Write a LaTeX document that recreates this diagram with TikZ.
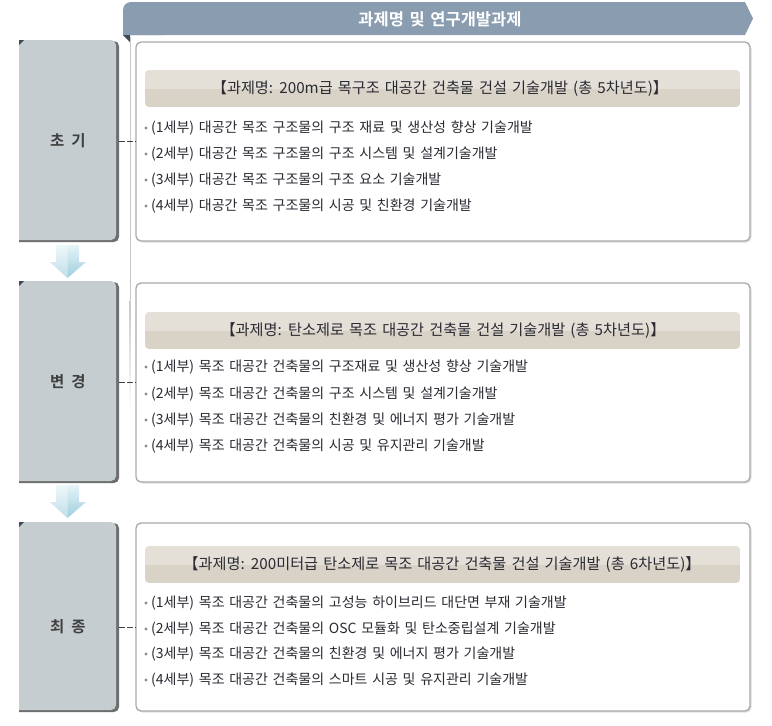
\documentclass[tikz,border=0pt]{standalone}
\usepackage{fontspec}
\setmainfont{Noto Sans CJK KR}[BoldFont={Noto Sans CJK KR Bold}, WordSpace=1.5]
\definecolor{bannerc}{HTML}{8A9DB0}
\definecolor{foldc}{HTML}{3E4A55}
\definecolor{labelc}{HTML}{C5CDD0}
\definecolor{shadowc}{HTML}{6E6E6E}
\definecolor{framec}{HTML}{A9A9A9}
\definecolor{titletop}{HTML}{E4E0D8}
\definecolor{titlebot}{HTML}{D9D2C6}
\definecolor{txtc}{HTML}{2A2A33}
\definecolor{bulc}{HTML}{8A8A8A}
\definecolor{arrtop}{HTML}{E6F3F7}
\definecolor{arrbot}{HTML}{9FCFDD}
\tikzset{
  itemtxt/.style={anchor=west, inner sep=0pt, text=txtc, font=\fontsize{14}{16}\selectfont},
  titletxt/.style={inner sep=0pt, text=txtc, font=\fontsize{15.2}{17}\selectfont},
  labeltxt/.style={inner sep=0pt, text=black!75, font=\fontsize{15.5}{18}\selectfont\bfseries},
  headtxt/.style={inner sep=0pt, text=white, font=\fontsize{16.5}{19}\selectfont\bfseries},
  cbox/.style={draw=framec, line width=1.3pt, fill=white, rounded corners=5pt},
  conn/.style={draw=black!75, line width=0.8pt, dash pattern=on 6pt off 2pt},
  bul/.style={circle, fill=bulc, inner sep=0pt, minimum size=3.4pt},
}
\begin{document}
\begin{tikzpicture}[x=1pt,y=-1pt]
\useasboundingbox (0,0) rectangle (772,726);
\fill[white] (0,0) rectangle (772,726);

% header banner
\fill[bannerc, rounded corners=8pt] (123,2) rectangle (170,35);
\fill[bannerc] (135,2) -- (745,2) -- (753,18.5) -- (745,35) -- (123,35) -- (123,20) -- (135,20) -- cycle;
\fill[foldc] (123,35) -- (130,35) -- (130,42) -- cycle;
\node[headtxt] (head) at (440,19) {과제명 및 연구개발과제};

% vertical guide line
\draw[black!22, line width=0.8pt] (130,37) -- (130,300);
\shade[top color=black!22, bottom color=white] (129.6,300) rectangle (130.4,413);

% left label boxes
\foreach \T/\B in {40/242, 281/483, 522/712}{
  \begin{scope}
    \clip (19,0) rectangle (200,726);
    \fill[shadowc, rounded corners=5pt] (8,\T+1) rectangle (119,\B);
    \fill[labelc, rounded corners=5pt] (8,\T) rectangle (116,\B-2);
  \end{scope}
  \fill[foldc] (19,\T) -- (24,\T) -- (19,\T+5) -- cycle;
}
\node[labeltxt] (l1) at (68,141) {초\hspace{7pt}기};
\node[labeltxt] (l2) at (68,382) {변\hspace{7pt}경};
\node[labeltxt] (l3) at (68,627) {최\hspace{7pt}종};

% down arrows
\foreach \T in {245, 485}{
  \shade[top color=arrtop, bottom color=arrbot]
    (56,\T) -- (79,\T) -- (79,\T+17) -- (86,\T+17) -- (67.5,\T+33) -- (50,\T+17) -- (56,\T+17) -- cycle;
  \fill[white, opacity=0.35] (56,\T) -- (67.5,\T) -- (67.5,\T+33) -- (50,\T+17) -- (56,\T+17) -- cycle;
}

% content boxes
\foreach \T/\B/\tt/\tb in {42/241/70/107, 283/482/312/349, 523/711/546/583}{
  \fill[black!12, rounded corners=5pt] (137.5,\T+1.5) rectangle (751.5,\B+1.5);
  \path[cbox] (136,\T) rectangle (750,\B);
  \begin{scope}
    \clip[rounded corners=4pt] (145,\tt) rectangle (740,\tb);
    \fill[titletop] (145,\tt) rectangle (740,{(\tt+\tb)/2});
    \fill[titlebot] (145,{(\tt+\tb)/2}) rectangle (740,\tb);
  \end{scope}
}
\coordinate (b1) at (136,141);
\coordinate (b2) at (136,382);
\coordinate (b3) at (136,627);
\coordinate (e1) at (119,141);
\coordinate (e2) at (119,382);
\coordinate (e3) at (119,627);
\draw[conn] (e1) -- (b1);
\draw[conn] (e2) -- (b2);
\draw[conn] (e3) -- (b3);

% titles
\node[titletxt] (t1) at (440,88.5) {【과제명: 200m급 목구조 대공간 건축물 건설 기술개발 (총 5차년도)】};
\node[titletxt] (t2) at (443,330.5) {【과제명: 탄소제로 목조 대공간 건축물 건설 기술개발 (총 5차년도)】};
\node[titletxt] (t3) at (442,564.5) {【과제명: 200미터급 탄소제로 목조 대공간 건축물 건설 기술개발 (총 6차년도)】};

% items box 1
\node[bul] (d11) at (146,128) {};
\node[itemtxt] (i11) at (151,128) {(1세부) 대공간 목조 구조물의 구조 재료 및 생산성 향상 기술개발};
\node[bul] (d12) at (146,154) {};
\node[itemtxt] (i12) at (151,154) {(2세부) 대공간 목조 구조물의 구조 시스템 및 설계기술개발};
\node[bul] (d13) at (146,180) {};
\node[itemtxt] (i13) at (151,180) {(3세부) 대공간 목조 구조물의 구조 요소 기술개발};
\node[bul] (d14) at (146,206) {};
\node[itemtxt] (i14) at (151,206) {(4세부) 대공간 목조 구조물의 시공 및 친환경 기술개발};

% items box 2
\node[bul] (d21) at (146,367) {};
\node[itemtxt] (i21) at (151,367) {(1세부) 목조 대공간 건축물의 구조재료 및 생산성 향상 기술개발};
\node[bul] (d22) at (146,394) {};
\node[itemtxt] (i22) at (151,394) {(2세부) 목조 대공간 건축물의 구조 시스템 및 설계기술개발};
\node[bul] (d23) at (146,420) {};
\node[itemtxt] (i23) at (151,420) {(3세부) 목조 대공간 건축물의 친환경 및 에너지 평가 기술개발};
\node[bul] (d24) at (146,446) {};
\node[itemtxt] (i24) at (151,446) {(4세부) 목조 대공간 건축물의 시공 및 유지관리 기술개발};

% items box 3
\node[bul] (d31) at (146,603) {};
\node[itemtxt] (i31) at (151,603) {(1세부) 목조 대공간 건축물의 고성능 하이브리드 대단면 부재 기술개발};
\node[bul] (d32) at (146,629) {};
\node[itemtxt] (i32) at (151,629) {(2세부) 목조 대공간 건축물의 OSC 모듈화 및 탄소중립설계 기술개발};
\node[bul] (d33) at (146,654) {};
\node[itemtxt] (i33) at (151,654) {(3세부) 목조 대공간 건축물의 친환경 및 에너지 평가 기술개발};
\node[bul] (d34) at (146,680) {};
\node[itemtxt] (i34) at (151,680) {(4세부) 목조 대공간 건축물의 스마트 시공 및 유지관리 기술개발};
\end{tikzpicture}
\end{document}
